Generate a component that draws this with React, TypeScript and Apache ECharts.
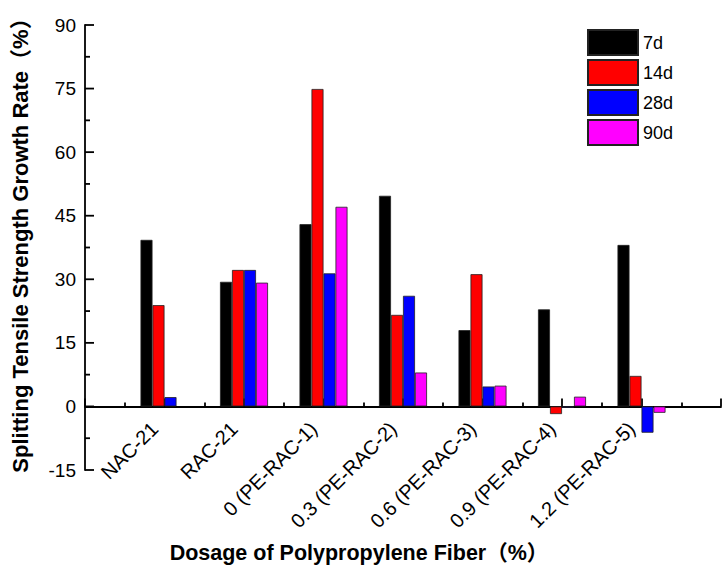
import React, { useEffect, useRef } from "react";
import * as echarts from "echarts";

const categories = [
  "NAC-21",
  "RAC-21",
  "0 (PE-RAC-1)",
  "0.3 (PE-RAC-2)",
  "0.6 (PE-RAC-3)",
  "0.9 (PE-RAC-4)",
  "1.2 (PE-RAC-5)",
];
const positions = [1, 2, 3, 4, 5, 6, 7];
const seriesNames = ["7d", "14d", "28d", "90d"];
const seriesColors = ["#000000", "#ff0000", "#0000ff", "#ff00ff"];
const d7 = [39.3, 29.4, 43.0, 49.7, 18.0, 22.9, 38.1];
const d14 = [23.9, 32.2, 74.9, 21.6, 31.2, -1.8, 7.2];
const d28 = [2.2, 32.2, 31.4, 26.1, 4.7, -0.3, -6.2];
const d90: (number | null)[] = [null, 29.2, 47.1, 8.0, 4.9, 2.3, -1.5];
const yMajorTicks = [-15, 0, 15, 30, 45, 60, 75, 90];
const yMinorTicks = [-7.5, 7.5, 22.5, 37.5, 52.5, 67.5, 82.5];
const yMin = -15;
const yMax = 90;
const yStep = 15;
const xMin = 0;
const xMax = 8;

const FONT = "'Liberation Sans', Arial, 'Noto Sans CJK SC', sans-serif";

const W = 728;
const H = 582;
const GRID_LEFT = 85;
const GRID_RIGHT = 7;
const GRID_TOP = 25;
const GRID_BOTTOM = 112;
const PLOT_H = H - GRID_TOP - GRID_BOTTOM;

export default function App() {
  const ref = useRef<HTMLDivElement>(null);
  useEffect(() => {
    if (!ref.current) return;
    const chart = echarts.init(ref.current, undefined, { renderer: "svg" });
    const all = [d7, d14, d28, d90];
    const zeroOffset = -((0 - yMin) / (yMax - yMin)) * PLOT_H;
    const tickStyle = { color: "#000", width: 1.8 };
    const titles = [
      {
        type: "text",
        x: 20,
        y: 240,
        rotation: Math.PI / 2,
        style: {
          text: "Splitting Tensile Strength Growth Rate（%）",
          fontSize: 22,
          fontWeight: "bold",
          fill: "#000",
          fontFamily: FONT,
          align: "center",
          verticalAlign: "middle",
        },
      },
      {
        type: "text",
        x: 359,
        y: 553,
        style: {
          text: "Dosage of Polypropylene Fiber（%）",
          fontSize: 21.5,
          fontWeight: "bold",
          fill: "#000",
          fontFamily: FONT,
          align: "center",
          verticalAlign: "middle",
        },
      },
    ];
    chart.setOption({
      animation: false,
      backgroundColor: "#ffffff",
      textStyle: { fontFamily: FONT },
      grid: { left: GRID_LEFT, right: GRID_RIGHT, top: GRID_TOP, bottom: GRID_BOTTOM, containLabel: false },
      legend: {
        orient: "vertical",
        left: 587,
        top: 29,
        padding: 0,
        itemWidth: 50,
        itemHeight: 25,
        itemGap: 3,
        icon: "rect",
        textStyle: { fontSize: 18, color: "#000", fontFamily: FONT },
        data: seriesNames,
      },
      xAxis: {
        type: "value",
        min: xMin,
        max: xMax,
        interval: 1,
        offset: zeroOffset,
        axisLine: { onZero: false, lineStyle: { color: "#000", width: 1.8 } },
        axisTick: { show: true, inside: true, length: 8, lineStyle: tickStyle },
        minorTick: { show: true, splitNumber: 2, length: 4, lineStyle: tickStyle },
        splitLine: { show: false },
        minorSplitLine: { show: false },
        axisLabel: {
          rotate: 45,
          margin: 9,
          padding: [0, 14, 0, 0],
          fontSize: 20,
          color: "#000",
          fontFamily: FONT,
          formatter: (v: number) => {
            const i = positions.indexOf(v);
            return i >= 0 ? categories[i] : "";
          },
        },
      },
      yAxis: {
        type: "value",
        min: yMin,
        max: yMax,
        interval: yStep,
        axisLine: { show: true, onZero: false, lineStyle: { color: "#000", width: 1.8 } },
        axisTick: { show: false },
        minorTick: { show: false },
        splitLine: { show: false },
        minorSplitLine: { show: false },
        axisLabel: { fontSize: 19, color: "#000", margin: 9, fontFamily: FONT },
      },
      graphic: titles,
      series: seriesNames.map((name, s) => ({
        name,
        type: "bar",
        barWidth: 12,
        barGap: "0%",
        itemStyle: { color: seriesColors[s], borderColor: "#222", borderWidth: 0.8 },
        data: positions.map((p, i) => [p, all[s][i]]),
      })),
    });

    // inward-pointing y-axis ticks, positioned through the chart's own scales
    const tickLines: any[] = [];
    const addTick = (v: number, len: number) => {
      const p = chart.convertToPixel({ xAxisIndex: 0, yAxisIndex: 0 }, [xMin, v]) as number[];
      if (!p) return;
      tickLines.push({
        type: "line",
        z: 100,
        silent: true,
        shape: { x1: p[0], y1: p[1], x2: p[0] + len, y2: p[1] },
        style: { stroke: "#000", lineWidth: 1.8 },
      });
    };
    yMajorTicks.forEach((v) => addTick(v, 9));
    yMinorTicks.forEach((v) => addTick(v, 5));
    chart.setOption({ graphic: [...titles, ...tickLines] });

    return () => chart.dispose();
  }, []);
  return <div ref={ref} style={{ width: W, height: H, position: "absolute", left: 0, top: 0 }} />;
}
